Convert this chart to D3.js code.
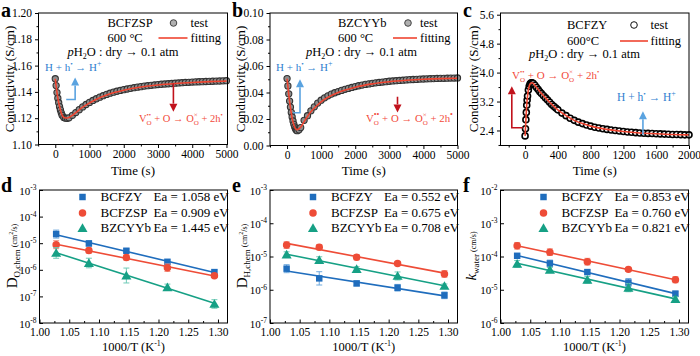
<!DOCTYPE html>
<html><head><meta charset="utf-8">
<script src="https://cdn.jsdelivr.net/npm/d3@7"></script>
<style>body{margin:0;background:#fff}svg{display:block}</style>
</head><body><script>
// ---------------- DATA ----------------
const timeA=[0,25,50,75,100,125,150,175,200,250,300,350,400,500,600,700,800,900,1000,1100,1200,1300,1400,1500,1600,1700,1800,1900,2000,2100,2200,2300,2400,2500,2600,2700,2800,2900,3000,3100,3200,3300,3400,3500,3600,3700,3800,3900,4000,4100,4200,4300,4400,4500,4600,4700,4800,4900,5000];
const condA=[1.150,1.1448,1.1395,1.1352,1.1318,1.1288,1.1263,1.1241,1.1223,1.1206,1.1200,1.1199,1.1203,1.1222,1.1243,1.1265,1.1286,1.1304,1.1320,1.1335,1.1348,1.1360,1.1371,1.1381,1.1390,1.1398,1.1405,1.1411,1.1417,1.1422,1.1427,1.1432,1.1436,1.1440,1.1444,1.1447,1.1450,1.1453,1.1456,1.1458,1.1460,1.1462,1.1464,1.1466,1.1468,1.1470,1.1472,1.1473,1.1475,1.1476,1.1477,1.1478,1.1479,1.1480,1.1481,1.1482,1.1483,1.1484,1.1485];
const fitTimeA=[0,50,100,150,200,250,300,350,400,500,600,800,1000,1250,1500,1750,2000,2500,3000,3500,4000,4500,5000];
const fitCondA=[1.150,1.1395,1.1318,1.1263,1.1223,1.1206,1.1201,1.1201,1.1205,1.1222,1.1243,1.1284,1.1316,1.1350,1.1376,1.1397,1.1413,1.1437,1.1453,1.1464,1.1472,1.1478,1.1482];

const timeB=[0,25,50,75,100,125,150,175,200,225,250,275,300,350,400,500,600,700,800,900,1000,1100,1200,1300,1400,1500,1600,1700,1800,1900,2000,2100,2200,2300,2400,2500,2600,2700,2800,2900,3000,3100,3200,3300,3400,3500,3600,3700,3800,3900,4000,4100,4200,4300,4400,4500,4600,4700,4800,4900,5000];
const condB=[0.0505,0.0450,0.0390,0.0335,0.0290,0.0250,0.0215,0.0185,0.0160,0.0140,0.0125,0.0115,0.0112,0.0118,0.0135,0.0190,0.0225,0.0262,0.0292,0.0320,0.0342,0.0360,0.0375,0.0388,0.0398,0.0407,0.0416,0.0424,0.0431,0.0438,0.0445,0.0451,0.0456,0.0461,0.0465,0.0469,0.0473,0.0476,0.0479,0.0482,0.0485,0.0487,0.0489,0.0491,0.0493,0.0495,0.0497,0.0498,0.0499,0.0501,0.0502,0.0503,0.0504,0.0505,0.0506,0.0507,0.0507,0.0508,0.0509,0.0509,0.0510];
const fitTimeB=[0,50,100,150,200,250,300,400,500,700,1000,1500,2000,2500,3000,3500,4000,4500,5000];
const fitCondB=[0.0505,0.0385,0.0285,0.0205,0.0155,0.0127,0.0120,0.0138,0.0180,0.0255,0.0330,0.0400,0.0440,0.0465,0.0481,0.0492,0.0500,0.0505,0.0508];

const timeC=[0,5,10,15,20,25,30,40,50,60,70,80,90,100,120,140,160,180,200,225,250,275,300,325,350,375,400,450,500,550,600,650,700,750,800,850,900,950,1000,1050,1100,1150,1200,1250,1300,1350,1400,1450,1500,1550,1600,1650,1700,1750,1800,1850,1900,1950,2000];
const condC=[2.25,2.45,2.70,2.90,3.10,3.24,3.35,3.52,3.62,3.68,3.71,3.72,3.71,3.70,3.65,3.59,3.53,3.47,3.42,3.36,3.30,3.24,3.18,3.12,3.07,3.02,2.97,2.88,2.81,2.74,2.68,2.63,2.59,2.55,2.52,2.49,2.47,2.45,2.43,2.415,2.40,2.385,2.37,2.36,2.35,2.34,2.33,2.325,2.32,2.315,2.31,2.305,2.30,2.295,2.29,2.29,2.285,2.28,2.28];
const fitTimeC=[0,10,20,30,40,50,60,70,80,100,125,150,200,250,300,400,500,600,700,800,1000,1200,1400,1600,1800,2000];
const fitCondC=[2.25,2.70,3.10,3.35,3.52,3.62,3.68,3.71,3.72,3.70,3.63,3.56,3.42,3.30,3.18,2.97,2.81,2.68,2.59,2.52,2.43,2.37,2.33,2.31,2.29,2.28];

const invT=[1.028,1.083,1.146,1.215,1.294];
const materials=['BCFZY','BCFZSP','BZCYYb'];
const xTicksArr=[1.00,1.05,1.10,1.15,1.20,1.25,1.30];

const dO_BCFZY=[2.2e-5,9.8e-6,5.2e-6,2.0e-6,8.2e-7];
const dO_BCFZSP=[8.8e-6,5.3e-6,2.9e-6,1.2e-6,6.0e-7];
const dO_BZCYYb=[4.3e-6,1.8e-6,6.1e-7,2.2e-7,5.2e-8];
const dOErr_BCFZY=[0.15,0.10,0.07,0.07,0.08];
const dOErr_BCFZSP=[0.15,0.10,0.10,0.14,0.06];
const dOErr_BZCYYb=[0.20,0.18,0.28,0.12,0.16];
const eaDO=['1.058','0.909','1.445'];

const dH_BCFZY=[4.3e-6,2.2e-6,1.55e-6,1.15e-6,6.8e-7];
const dH_BCFZSP=[2.2e-5,1.9e-5,9.5e-6,6.2e-6,3.0e-6];
const dH_BZCYYb=[1.15e-5,7.8e-6,4.2e-6,2.6e-6,1.3e-6];
const dHErr_BCFZY=[0.12,0.20,0.07,0.10,0.10];
const dHErr_BCFZSP=[0.10,0.08,0.08,0.05,0.10];
const dHErr_BZCYYb=[0.08,0.10,0.07,0.12,0.06];
const eaDH=['0.552','0.675','0.708'];

const k_BCFZY=[1.05e-4,6.2e-5,3.4e-5,1.65e-5,7.6e-6];
const k_BCFZSP=[2.1e-4,1.35e-4,7.0e-5,4.1e-5,2.0e-5];
const k_BZCYYb=[6.0e-5,4.0e-5,2.0e-5,1.15e-5,5.2e-6];
const kErr_BCFZY=[0.05,0.10,0.06,0.12,0.08];
const kErr_BCFZSP=[0.10,0.10,0.10,0.06,0.09];
const kErr_BZCYYb=[0.10,0.07,0.10,0.12,0.07];
const eaK=['0.853','0.760','0.821'];

// ---------------- STYLE ----------------
const F='Liberation Serif';
const COL=['#1f6dbd','#ee4c37','#16a085'];
const ERRCOL=['#6fa9dd','#f39483','#6fcab6'];
const SYM=[d3.symbolSquare,d3.symbolCircle,d3.symbolTriangle];
const SYMSZ=[42,44,44];
const FITRED='#ef4430', BLUE_T='#2f80d0', BLUE_A='#5aa3e0', RED_T='#f24a3a', RED_A='#c1121c';

const svg=d3.select('body').append('svg').attr('width',700).attr('height',356);

function rich(g,x,y,parts,o){
  o=o||{};
  let cx=x,lastX=x,lastW=0;
  parts.forEach(p=>{
    if(typeof p==='string') p={t:p};
    const px=p.stack?lastX:cx;
    const t=g.append('text').attr('x',px).attr('y',y+(p.dy||0))
      .attr('font-family',F).attr('font-size',p.size||o.size||12).attr('fill',p.fill||o.fill||'#000')
      .attr('font-style',p.italic?'italic':null).attr('font-weight',p.bold?'bold':null)
      .attr('xml:space','preserve').style('white-space','pre').text(p.t);
    const w=t.node().getComputedTextLength();
    if(p.stack){cx=Math.max(cx,lastX+Math.max(lastW,w));}
    else {lastX=cx;lastW=w;cx+=w;}
  });
  return cx-x;
}
function richCentered(g,cx,y,parts,o){
  const gg=g.append('g');const w=rich(gg,0,y,parts,o);
  gg.attr('transform',`translate(${cx-w/2},0)`);
}
function yTitle(bx,cy,parts,o){
  const g=svg.append('g').attr('transform',`translate(${bx},${cy}) rotate(-90)`);
  richCentered(g,0,0,parts,o);
}
function arrow(pts,color){
  const l=pts.length, a=pts[l-2], b=pts[l-1];
  const ang=Math.atan2(b[1]-a[1],b[0]-a[0]);
  const hl=8,hw=4;
  const base=[b[0]-hl*Math.cos(ang),b[1]-hl*Math.sin(ang)];
  const line=pts.slice(0,l-1).concat([base]);
  svg.append('path').attr('d',d3.line()(line)).attr('fill','none').attr('stroke',color).attr('stroke-width',1.6);
  const px=-Math.sin(ang)*hw, py=Math.cos(ang)*hw;
  svg.append('path').attr('d',`M${b[0]},${b[1]}L${base[0]+px},${base[1]+py}L${base[0]-px},${base[1]-py}Z`).attr('fill',color);
}
function frame(p){
  svg.append('rect').attr('x',p.x0).attr('y',p.y0).attr('width',p.x1-p.x0).attr('height',p.y1-p.y0)
    .attr('fill','none').attr('stroke','#000').attr('stroke-width',1);
}
function styleAxis(g,size){
  g.attr('font-family',F).attr('font-size',size||11.5);
  g.select('.domain').remove();
  g.selectAll('line').attr('stroke','#000');
  g.selectAll('text').attr('font-family',F).attr('font-size',size||11.5).attr('fill','#000');
}
function linAxes(p,x,y,xMaj,xMin,yMaj,yMin,yFmt){
  const gx1=svg.append('g').attr('transform',`translate(0,${p.y1})`)
    .call(d3.axisBottom(x).tickValues(xMin).tickFormat('').tickSize(2).tickSizeOuter(0));styleAxis(gx1);
  const gx=svg.append('g').attr('transform',`translate(0,${p.y1})`)
    .call(d3.axisBottom(x).tickValues(xMaj).tickFormat(d3.format('d')).tickSize(3.5).tickPadding(2).tickSizeOuter(0));styleAxis(gx);
  const gy1=svg.append('g').attr('transform',`translate(${p.x0},0)`)
    .call(d3.axisLeft(y).tickValues(yMin).tickFormat('').tickSize(2).tickSizeOuter(0));styleAxis(gy1);
  const gy=svg.append('g').attr('transform',`translate(${p.x0},0)`)
    .call(d3.axisLeft(y).tickValues(yMaj).tickFormat(yFmt).tickSize(3.5).tickPadding(3).tickSizeOuter(0));styleAxis(gy);
}
function logAxes(p,x,y,decs){
  const xMin=d3.range(1.025,1.32,0.05);
  const gx1=svg.append('g').attr('transform',`translate(0,${p.y1})`)
    .call(d3.axisBottom(x).tickValues(xMin).tickFormat('').tickSize(-2).tickSizeOuter(0));styleAxis(gx1);
  const gx=svg.append('g').attr('transform',`translate(0,${p.y1})`)
    .call(d3.axisBottom(x).tickValues(xTicksArr).tickFormat(d3.format('.2f')).tickSize(-3.5).tickPadding(5).tickSizeOuter(0));styleAxis(gx,11.5);
  const vals=decs.map(e=>Math.pow(10,e));
  const gy=svg.append('g').attr('transform',`translate(${p.x0},0)`)
    .call(d3.axisLeft(y).tickValues(vals).tickFormat('').tickSize(-3.5).tickSizeOuter(0));styleAxis(gy);
  gy.selectAll('.tick').each(function(d){
    const t=d3.select(this).append('text').attr('x',-3).attr('y',4).attr('text-anchor','end')
      .attr('font-family',F).attr('font-size',11).attr('fill','#000');
    t.append('tspan').text('10');
    t.append('tspan').attr('dy',-4.5).attr('font-size',7.5).text(String(Math.round(Math.log10(d))));
  });
}

// ---------------- LAYOUT ----------------
const P={
  a:{x0:38.5,x1:227.5,y0:13,y1:144.5},
  b:{x0:270,x1:457.5,y0:13,y1:145.5},
  c:{x0:500.5,x1:689,y0:13,y1:145.5},
  d:{x0:39.5,x1:227.5,y0:190,y1:323},
  e:{x0:270,x1:457.5,y0:190,y1:323},
  f:{x0:500.5,x1:688.5,y0:190,y1:323}
};

// ---------------- TOP PANELS ----------------
function timePanel(p,time,cond,fitT,fitC,xd,yd,xMaj,xMin,yMaj,yMin,yFmt,dark){
  const x=d3.scaleLinear().domain(xd).range([p.x0,p.x1]);
  const y=d3.scaleLinear().domain(yd).range([p.y1,p.y0]);
  const n=Math.min(time.length,cond.length);
  const pts=d3.range(n).map(i=>[time[i],cond[i]]);
  const g=svg.append('g');
  g.selectAll('circle').data(pts).enter().append('circle')
    .attr('cx',d=>x(d[0])).attr('cy',d=>y(d[1])).attr('r',dark?3:3.1)
    .attr('fill',dark?'#ffffff':'#8d8d8d').attr('stroke',dark?'#000':'#333').attr('stroke-width',dark?1.6:1.1);
  const fp=d3.range(Math.min(fitT.length,fitC.length)).map(i=>[fitT[i],fitC[i]]);
  g.append('path').attr('d',d3.line().x(d=>x(d[0])).y(d=>y(d[1])).curve(d3.curveMonotoneX)(fp))
    .attr('fill','none').attr('stroke',FITRED).attr('stroke-width',1.6);
  frame(p);
  linAxes(p,x,y,xMaj,xMin,yMaj,yMin,yFmt);
  richCentered(svg,(p.x0+p.x1)/2,175,['Time (s)'],{size:13});
  return {x,y};
}
function topLegend(p,name,temp,o,dark){
  rich(svg,p.x0+o.nx,o.r1,[name],{size:12.5});
  rich(svg,p.x0+o.nx,o.r2,[temp],{size:12.5});
  svg.append('circle').attr('cx',p.x0+o.cx).attr('cy',o.r1-4).attr('r',3.3)
    .attr('fill',dark?'#fff':'#b0b0b0').attr('stroke',dark?'#111':'#444').attr('stroke-width',1);
  rich(svg,p.x0+o.tx,o.r1,['test'],{size:12.5});
  svg.append('line').attr('x1',p.x0+o.lx0).attr('x2',p.x0+o.lx1).attr('y1',o.r2-4).attr('y2',o.r2-4)
    .attr('stroke',FITRED).attr('stroke-width',1.6);
  rich(svg,p.x0+o.tx,o.r2,['fitting'],{size:12.5});
  rich(svg,p.x0+o.px,o.r3,[{t:'p',italic:true},'H',{t:'2',size:8,dy:3},'O : dry \u2192 0.1 atm'],{size:12.5});
}
const hPlus=[ 'H + h',{t:'\u2022',size:7,dy:-5},' \u2192 H',{t:'+',size:8,dy:-5}];
function vText(big){
  const ds=big?8:6.5;
  return ['V',{t:'O',size:7,dy:3},{t:'\u2022\u2022',size:ds,dy:-5,stack:true},' + O \u2192 O',{t:'O',size:7,dy:3},{t:'\u00d7',size:7,dy:-5,stack:true},' + 2h',{t:'\u2022',size:ds,dy:-5}];
}

// a
const sa=timePanel(P.a,timeA,condA,fitTimeA,fitCondA,[-490,5030],[1.10,1.20],
  [0,1000,2000,3000,4000,5000],[-500,500,1500,2500,3500,4500],[1.10,1.12,1.14,1.16,1.18,1.20],[1.11,1.13,1.15,1.17,1.19],d3.format('.2f'),false);
topLegend(P.a,'BCFZSP','600 \u00b0C',{nx:69,cx:135,tx:152,lx0:120,lx1:149,px:29,r1:27,r2:42,r3:56},false);
rich(svg,45,71,hPlus,{size:11,fill:BLUE_T});
arrow([[sa.x(320),sa.y(1.1342)],[sa.x(580),sa.y(1.1342)],[sa.x(580),sa.y(1.1510)]],BLUE_A);
arrow([[sa.x(3450),sa.y(1.1465)],[sa.x(3450),sa.y(1.1250)]],RED_A);
rich(svg,139,122,vText(false),{size:10.5,fill:RED_T});

// b
const sb=timePanel(P.b,timeB,condB,fitTimeB,fitCondB,[-500,5000],[0,0.10],
  [0,1000,2000,3000,4000,5000],[-500,500,1500,2500,3500,4500],[0,0.02,0.04,0.06,0.08,0.10],[0.01,0.03,0.05,0.07,0.09],d3.format('.2f'),false);
topLegend(P.b,'BZCYYb','600 \u00b0C',{nx:68,cx:138,tx:150,lx0:123,lx1:147,px:36,r1:27,r2:42,r3:56},false);
rich(svg,276,71,hPlus,{size:11,fill:BLUE_T});
arrow([[sb.x(175),sb.y(0.0247)],[sb.x(380),sb.y(0.0247)],[sb.x(380),sb.y(0.0500)]],BLUE_A);
arrow([[sb.x(3240),sb.y(0.0368)],[sb.x(3240),sb.y(0.0250)]],RED_A);
rich(svg,366,122,vText(true),{size:10.8,fill:RED_T});

// c
const sc=timePanel(P.c,timeC,condC,fitTimeC,fitCondC,[-300,2000],[1.985,5.647],
  [0,400,800,1200,1600,2000],[-200,200,600,1000,1400,1800],[2.4,3.2,4.0,4.8,5.6],[2.0,2.8,3.6,4.4,5.2],d3.format('.1f'),true);
topLegend(P.c,'BCFZY','600\u00b0C',{nx:66.5,cx:133.5,tx:150,lx0:119.5,lx1:147.5,px:28.5,r1:29,r2:45,r3:58},true);
rich(svg,512,79,vText(false),{size:11,fill:RED_T});
arrow([[sc.x(-28),sc.y(2.475)],[sc.x(-162),sc.y(2.475)],[sc.x(-162),sc.y(3.62)]],RED_A);
rich(svg,617,101,hPlus,{size:11.5,fill:BLUE_T});
arrow([[sc.x(1438),sc.y(2.28)],[sc.x(1438),sc.y(2.93)]],BLUE_A);

yTitle(14,79,['Conductivity (S/cm)'],{size:13});
yTitle(245,79,['Conductivity (S/cm)'],{size:13});
yTitle(478,79,['Conductivity (S/cm)'],{size:13});

// ---------------- BOTTOM PANELS ----------------
function arrPanel(p,series,errs,eas,decs){
  const x=d3.scaleLinear().domain([1.0,1.316]).range([p.x0,p.x1]);
  const y=d3.scaleLog().domain([Math.pow(10,decs[0]),Math.pow(10,decs[decs.length-1])]).range([p.y1,p.y0]);
  series.forEach((vals,si)=>{
    const g=svg.append('g');
    const lx=invT, ly=vals.map(v=>Math.log10(v));
    const mx=d3.mean(lx), my=d3.mean(ly);
    const sl=d3.sum(lx.map((v,i)=>(v-mx)*(ly[i]-my)))/d3.sum(lx.map(v=>(v-mx)*(v-mx)));
    const ic=my-sl*mx;
    const ends=[lx[0],lx[lx.length-1]];
    g.append('line').attr('x1',x(ends[0])).attr('x2',x(ends[1]))
      .attr('y1',y(Math.pow(10,ic+sl*ends[0]))).attr('y2',y(Math.pow(10,ic+sl*ends[1])))
      .attr('stroke',COL[si]).attr('stroke-width',1.6);
    vals.forEach((v,i)=>{
      const e=errs[si][i];
      const cx=x(invT[i]), yt=y(v*Math.pow(10,e)), yb=y(v/Math.pow(10,e));
      g.append('line').attr('x1',cx).attr('x2',cx).attr('y1',yt).attr('y2',yb).attr('stroke',ERRCOL[si]).attr('stroke-width',1);
      [yt,yb].forEach(yy=>g.append('line').attr('x1',cx-3).attr('x2',cx+3).attr('y1',yy).attr('y2',yy).attr('stroke',ERRCOL[si]).attr('stroke-width',1));
    });
    g.selectAll('path.m').data(vals).enter().append('path').attr('class','m')
      .attr('d',d3.symbol().type(SYM[si]).size(SYMSZ[si]))
      .attr('transform',(d,i)=>`translate(${x(invT[i])},${y(d)+(si===2?1:0)})`).attr('fill',COL[si]);
  });
  frame(p);
  logAxes(p,x,y,decs);
  const rows=[p.y0+11,p.y0+27,p.y0+42];
  materials.forEach((m,i)=>{
    svg.append('path').attr('d',d3.symbol().type(SYM[i]).size(SYMSZ[i])())
      .attr('transform',`translate(${p.x0+43},${rows[i]-4+(i===2?1:0)})`).attr('fill',COL[i]);
    rich(svg,p.x0+61,rows[i],[m],{size:13});
    rich(svg,p.x0+114,rows[i],['Ea = '+eas[i]+' eV'],{size:13});
  });
  richCentered(svg,(p.x0+p.x1)/2,351,['1000/T (K',{t:'-1',size:8,dy:-5},')'],{size:12.5});
}
arrPanel(P.d,[dO_BCFZY,dO_BCFZSP,dO_BZCYYb],[dOErr_BCFZY,dOErr_BCFZSP,dOErr_BZCYYb],eaDO,[-8,-7,-6,-5,-4,-3]);
arrPanel(P.e,[dH_BCFZY,dH_BCFZSP,dH_BZCYYb],[dHErr_BCFZY,dHErr_BCFZSP,dHErr_BZCYYb],eaDH,[-7,-6,-5,-4,-3]);
arrPanel(P.f,[k_BCFZY,k_BCFZSP,k_BZCYYb],[kErr_BCFZY,kErr_BCFZSP,kErr_BZCYYb],eaK,[-6,-5,-4,-3,-2]);

yTitle(17,256,['D',{t:'O,chem',size:9,dy:3},{t:' (cm',size:8},{t:'2',size:6,dy:-4},{t:'/s)',size:8}],{size:15});
yTitle(247,256,['D',{t:'H,chem',size:9,dy:3},{t:' (cm',size:8},{t:'2',size:6,dy:-4},{t:'/s)',size:8}],{size:15});
yTitle(476,256,[{t:'k',italic:true},{t:'water',size:9,dy:3},{t:' (cm/s)',size:8}],{size:15});

[['a',1,17],['b',232,17],['c',463,17],['d',1,192],['e',232,192],['f',463,192]].forEach(l=>{
  svg.append('text').attr('x',l[1]).attr('y',l[2]).attr('font-family',F).attr('font-weight','bold')
    .attr('font-size',20).text(l[0]);
});
</script></body></html>
